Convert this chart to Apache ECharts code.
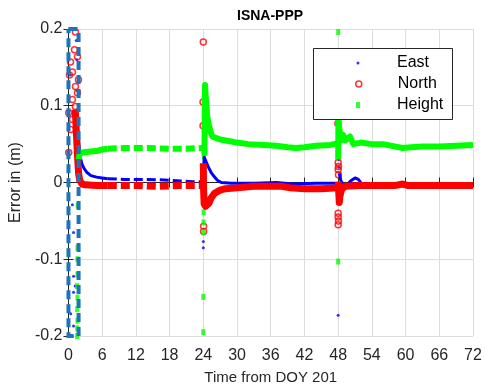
<!DOCTYPE html>
<html>
<head>
<meta charset="utf-8">
<script src="https://cdn.jsdelivr.net/npm/echarts@6/dist/echarts.min.js"></script>
<style>
  html, body { margin: 0; padding: 0; background: #fff; }
  #chart { width: 485px; height: 392px; }
</style>
</head>
<body>
<div id="chart"></div>
<script>
// Axis settings (hours from DOY 201, error in metres)
const xTickHours = [0, 6, 12, 18, 24, 30, 36, 42, 48, 54, 60, 66, 72];
const yTickValues = [-0.2, -0.1, 0, 0.1, 0.2];

// ---- East component ----
const eastTrack = [
  [1.75, 0.060], [1.9, 0.045], [2.1, 0.033], [2.4, 0.024], [2.8, 0.018], [3.3, 0.013],
  [4.0, 0.009], [5.0, 0.007], [6.0, 0.006], [7.0, 0.005]
];
const eastGapped = [
  [7.0, 0.005], [10, 0.004], [14, 0.004], [18, 0.003], [20, 0.002], [22, 0.001], [23.9, 0.001]
];
const eastAfter24 = [
  [24.0, 0.001], [24.05, 0.015], [24.15, 0.033], [24.5, 0.027], [24.9, 0.020], [25.4, 0.013],
  [25.9, 0.008], [26.5, 0.003], [27.2, 0.000], [29, -0.001], [33, -0.001], [37, 0.000],
  [40, -0.002], [44, -0.001], [47.9, -0.001]
];
const eastAfter48 = [
  [48.2, 0.012], [48.5, 0.002], [49.0, -0.004], [49.5, -0.004], [50.2, 0.002], [51.0, 0.006],
  [51.6, 0.004], [52.3, -0.003], [55, -0.003], [60, -0.003], [66, -0.003], [72, -0.003]
];
const eastDots = [
  [1.4, 0.185], [1.5, 0.16], [0.3, 0.14], [1.5, 0.12], [1.6, 0.095], [1.7, 0.075],
  [0.7, -0.029], [0.9, -0.065], [1.6, -0.10], [0.9, -0.122], [1.2, -0.135], [0.9, -0.143],
  [0.4, -0.171], [0.9, -0.187],
  [24.0, -0.077], [24.0, -0.085],
  [47.95, 0.075], [48.0, 0.062], [48.05, 0.050], [48.1, 0.040], [48.1, 0.030], [48.15, 0.020],
  [48.0, -0.173]
];

// ---- North component ----
const northTrack = [
  [1.2, 0.095], [1.35, 0.075], [1.5, 0.050], [1.65, 0.030], [1.8, 0.012], [2.0, 0.003],
  [2.4, -0.002], [3.0, -0.003], [5.0, -0.004], [7.0, -0.004]
];
const northGapped = [
  [7.0, -0.004], [12, -0.004], [16, -0.005], [20, -0.004], [23.9, -0.004]
];
const northAfter24 = [
  [24.0, 0.025], [24.05, -0.010], [24.15, -0.028], [24.4, -0.031], [24.7, -0.032],
  [25.0, -0.027], [25.4, -0.020], [26, -0.014], [27, -0.010], [28, -0.008], [30, -0.007],
  [33, -0.005], [38, -0.005], [39.5, -0.007], [42, -0.008], [45, -0.008], [47.9, -0.007]
];
const northAfter48 = [
  [48.0, 0.001], [48.1, -0.012], [48.2, -0.026], [48.3, -0.018], [48.6, -0.009], [49.2, -0.005],
  [52, -0.004], [55, -0.004], [58, -0.004], [59.5, -0.002], [60.5, -0.004], [66, -0.004], [72, -0.004]
];
const northCircles = [
  [1.24, 0.196], [1.07, 0.173], [1.6, 0.164], [0.36, 0.157], [0.71, 0.144], [0.18, 0.140],
  [1.78, 0.134], [1.24, 0.125], [1.6, 0.117], [0.71, 0.108], [1.24, 0.099], [0.05, 0.091],
  [0.71, 0.082], [0.36, 0.069], [0.05, 0.039],
  [24.0, 0.183], [23.95, 0.105], [23.95, 0.074], [24.05, -0.057], [24.05, -0.064],
  [47.95, 0.077], [48.0, 0.026], [48.05, 0.021], [48.0, 0.017], [48.05, 0.010],
  [48.0, -0.040], [48.0, -0.045], [48.05, -0.050], [48.0, -0.055]
];

// ---- Height component ----
const heightTrack = [
  [1.8, 0.030], [2.0, 0.038], [2.5, 0.039], [3.5, 0.040], [5.0, 0.041], [6.0, 0.043], [7.0, 0.044]
];
const heightGapped = [
  [7.0, 0.044], [10, 0.045], [14, 0.045], [18, 0.044], [21, 0.044], [23.9, 0.045]
];
const heightAfter24 = [
  [24.2, 0.035], [24.3, 0.127], [24.45, 0.110], [24.7, 0.086], [25.0, 0.075], [25.3, 0.066],
  [25.6, 0.060], [26.3, 0.058], [27, 0.056], [28.5, 0.054], [30, 0.052], [32, 0.050],
  [34.7, 0.049], [37, 0.048], [39, 0.046], [40.5, 0.045], [42, 0.046], [44, 0.048],
  [46.6, 0.049], [47.9, 0.051]
];
const heightAfter48 = [
  [48.0, 0.030], [48.05, 0.082], [48.2, 0.070], [48.5, 0.055], [48.9, 0.062], [49.3, 0.055],
  [50.1, 0.060], [50.7, 0.050], [52, 0.052], [54, 0.050], [56, 0.050], [58, 0.047],
  [59.5, 0.045], [61, 0.046], [63, 0.047], [66, 0.047], [69, 0.048], [72, 0.049]
];
const heightMarks = [
  [1.55, -0.200], [1.55, -0.190], [1.6, -0.180], [1.55, -0.165], [1.6, -0.150], [1.55, -0.135],
  [1.6, -0.120], [1.6, -0.100], [1.6, -0.085], [1.65, -0.030], [1.65, 0.013],
  [24.0, -0.195], [24.0, -0.149], [24.05, -0.065], [24.05, -0.052], [24.05, -0.039],
  [24.05, 0.000], [24.1, 0.034],
  [48.0, 0.196], [48.0, -0.103]
];

// Highlighted start-up window (hours, metres)
const startWindowHours = [0, 1.8];
const startWindowErr = [-0.2, 0.2];

const COL_E = '#0000ff', COL_N = '#ff0000', COL_H = '#00ff00', BOX = '#1c74bd';
const FONT = 'Liberation Sans, Arial, Helvetica, sans-serif';
const AX = '#262626';

function track(data, color, width, dashed) {
  return {
    type: 'line', data: data, symbol: 'none', silent: true, animation: false,
    lineStyle: { color: color, width: width, type: dashed ? [9, 4] : 'solid', cap: 'butt', join: 'round' }
  };
}

const boxPath = [
  [startWindowHours[0], startWindowErr[1]], [startWindowHours[1], startWindowErr[1]],
  [startWindowHours[1], startWindowErr[0]], [startWindowHours[0], startWindowErr[0]],
  [startWindowHours[0], startWindowErr[1]]
];

const axisCommon = {
  axisLine: { show: true, lineStyle: { color: AX, width: 1 } },
  axisTick: { show: true, inside: true, length: 5, lineStyle: { color: AX } }
};

// Legend entries: icon centred at x=358, label starting at x=397
const LEG_ICON_X = 358, LEG_TEXT_X = 397;
const legendEntries = [
  { name: 'East', w: 3, h: 3, cy: 63, icon: 'path://M0,1.5a1.5,1.5 0 1,0 3,0a1.5,1.5 0 1,0 -3,0z' },
  { name: 'North', w: 6, h: 6, cy: 84, icon: 'path://M0,3a3,3 0 1,0 6,0a3,3 0 1,0 -6,0z',
    itemStyle: { color: 'rgba(0,0,0,0)', borderColor: COL_N, borderWidth: 1.5 } },
  { name: 'Height', w: 4, h: 6, cy: 105, icon: 'path://M0,0h4v6h-4z' }
];

const chart = echarts.init(document.getElementById('chart'), null, { renderer: 'canvas' });
chart.setOption({
  animation: false,
  backgroundColor: '#fff',
  title: {
    text: 'ISNA-PPP', left: 232, top: 4,
    textStyle: { fontFamily: FONT, fontSize: 14, fontWeight: 'bold', color: '#000' }
  },
  grid: { left: 68, right: 12, top: 29, bottom: 56, containLabel: false },
  xAxis: [
    Object.assign({
      type: 'value', min: 0, max: 72, interval: 6, position: 'bottom',
      name: 'Time from DOY 201', nameLocation: 'middle', nameGap: 34,
      nameTextStyle: { fontFamily: FONT, fontSize: 15, color: AX },
      axisLabel: { fontFamily: FONT, fontSize: 16, color: AX, margin: 12 },
      splitLine: { show: true, lineStyle: { color: '#dcdcdc', width: 1 } }
    }, axisCommon),
    Object.assign({
      type: 'value', min: 0, max: 72, interval: 6, position: 'top',
      axisLabel: { show: false }, splitLine: { show: false }
    }, axisCommon)
  ],
  yAxis: [
    Object.assign({
      type: 'value', min: -0.2, max: 0.2, interval: 0.1, position: 'left',
      name: 'Error in (m)', nameLocation: 'middle', nameGap: 38,
      nameTextStyle: { fontFamily: FONT, fontSize: 16, color: AX },
      axisLabel: {
        fontFamily: FONT, fontSize: 16, color: AX, margin: 6,
        formatter: v => (Math.abs(v) < 1e-9 ? '0' : String(+v.toFixed(1)))
      },
      splitLine: { show: true, lineStyle: { color: '#dcdcdc', width: 1 } }
    }, axisCommon),
    Object.assign({
      type: 'value', min: -0.2, max: 0.2, interval: 0.1, position: 'right',
      axisLabel: { show: false }, splitLine: { show: false }
    }, axisCommon)
  ],
  legend: legendEntries.map(e => {
    const left = LEG_ICON_X - e.w / 2;
    const item = { name: e.name, icon: e.icon };
    if (e.itemStyle) item.itemStyle = e.itemStyle;
    return {
      data: [item], orient: 'horizontal', left: left, top: e.cy - 10, padding: 0,
      itemWidth: e.w, itemHeight: e.h, selectedMode: false, z: 60,
      textStyle: {
        fontFamily: FONT, fontSize: 16, color: '#000', lineHeight: 20,
        padding: [0, 0, 0, LEG_TEXT_X - (left + e.w + 5)]
      }
    };
  }),
  graphic: [{
    type: 'rect', left: 313, top: 48, z: 50,
    shape: { width: 139, height: 71 },
    style: { fill: '#fff', stroke: AX, lineWidth: 1 }
  }],
  series: [
    // East
    track(eastTrack, COL_E, 3, false),
    track(eastGapped, COL_E, 3, true),
    track(eastAfter24, COL_E, 3, false),
    track(eastAfter48, COL_E, 3, false),
    { name: 'East', type: 'scatter', data: eastDots, symbol: 'circle', symbolSize: 3,
      itemStyle: { color: COL_E }, silent: true },
    // North
    track(northTrack, COL_N, 7, false),
    track(northGapped, COL_N, 7, true),
    track(northAfter24, COL_N, 7, false),
    track(northAfter48, COL_N, 7, false),
    { name: 'North', type: 'scatter', data: northCircles, symbol: 'circle', symbolSize: 6,
      itemStyle: { color: 'rgba(0,0,0,0)', borderColor: COL_N, borderWidth: 1.5 }, silent: true },
    // Height
    track(heightTrack, COL_H, 6, false),
    track(heightGapped, COL_H, 6, true),
    track(heightAfter24, COL_H, 6, false),
    track(heightAfter48, COL_H, 6, false),
    { name: 'Height', type: 'scatter', data: heightMarks, symbol: 'rect', symbolSize: [4, 6],
      itemStyle: { color: COL_H }, silent: true },
    // Start-up window outline
    { type: 'line', data: boxPath, symbol: 'none', silent: true, clip: false, z: 10,
      lineStyle: { color: BOX, width: 4, type: [9, 5], cap: 'butt', join: 'miter' } }
  ]
});
</script>
</body>
</html>
